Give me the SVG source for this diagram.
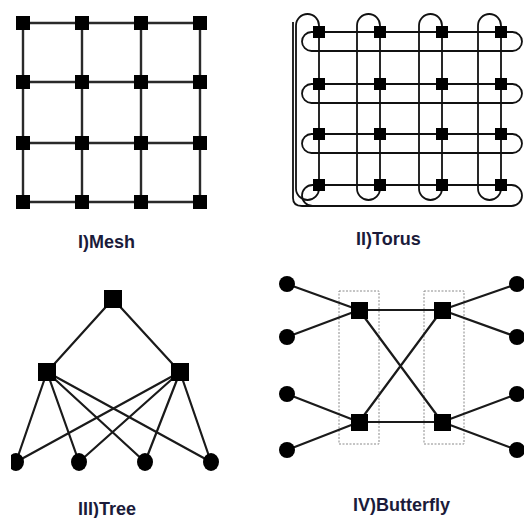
<svg xmlns="http://www.w3.org/2000/svg" width="524" height="518" viewBox="0 0 524 518">
<style>
.bg{fill:#ffffff}
.mline{stroke:#2a2a2a;stroke-width:2.4;fill:none}
.tline{stroke:#111;stroke-width:1.8;fill:none}
.eline{stroke:#1a1a1a;stroke-width:2.2;fill:none}
.box{fill:none;stroke:#8a8a8a;stroke-width:1;stroke-dasharray:2,1.5}
.sq{fill:#000}
.lf{fill:#000}
.lbl{font-family:"Liberation Sans",Arial,sans-serif;font-weight:bold;font-size:18px;fill:#1b1b3a}
</style>
<defs>
<clipPath id="clipL"><rect x="11" y="0" width="513" height="518"/></clipPath>
</defs>
<rect class="bg" x="0" y="0" width="524" height="518"/>

<!-- Connectors -->
<g id="connectors">
 <g id="mesh-links">
  <path class="mline" d="M23 23H200M23 82H200M23 143H200M23 202H200M23 23V202M82 23V202M141 23V202M200 23V202"/>
 </g>
 <g id="torus-links">
  <rect class="tline" x="302" y="32" width="220" height="19" rx="9.5"/>
  <rect class="tline" x="302" y="84" width="220" height="19" rx="9.5"/>
  <rect class="tline" x="302" y="134" width="220" height="19" rx="9.5"/>
  <rect class="tline" x="302" y="185" width="220" height="21" rx="10.5"/>
  <rect class="tline" x="296" y="14" width="23" height="186" rx="11.5"/>
  <rect class="tline" x="357" y="14" width="23" height="186" rx="11.5"/>
  <rect class="tline" x="419" y="14" width="23" height="186" rx="11.5"/>
  <rect class="tline" x="478" y="14" width="23" height="186" rx="11.5"/>
  <path class="tline" d="M293 22V198Q293 206 302 206H512"/>
 </g>
 <g id="tree-links">
  <path class="eline" d="M113 299L47 372M113 299L180 372"/>
  <path class="eline" d="M47 372L16 462M47 372L79 462M47 372L145 462M47 372L211 462"/>
  <path class="eline" d="M180 372L16 462M180 372L79 462M180 372L145 462M180 372L211 462"/>
 </g>
 <g id="butterfly-links">
  <rect class="box" x="339" y="291" width="40" height="153"/>
  <rect class="box" x="424" y="291" width="40" height="153"/>
  <path class="eline" d="M287 284L359 310M287 337L359 310M287 394L359 422M287 450L359 422"/>
  <path class="eline" d="M517 284L442 310M517 337L442 310M517 394L442 422M517 450L442 422"/>
  <path class="eline" d="M359 310H442M359 422H442M359 310L442 422M359 422L442 310"/>
 </g>
</g>

<!-- Mesh nodes -->
<g id="mesh">
 <rect class="sq" x="16" y="16" width="14" height="14"/><rect class="sq" x="75" y="16" width="14" height="14"/><rect class="sq" x="134" y="16" width="14" height="14"/><rect class="sq" x="193" y="16" width="14" height="14"/>
 <rect class="sq" x="16" y="75" width="14" height="14"/><rect class="sq" x="75" y="75" width="14" height="14"/><rect class="sq" x="134" y="75" width="14" height="14"/><rect class="sq" x="193" y="75" width="14" height="14"/>
 <rect class="sq" x="16" y="136" width="14" height="14"/><rect class="sq" x="75" y="136" width="14" height="14"/><rect class="sq" x="134" y="136" width="14" height="14"/><rect class="sq" x="193" y="136" width="14" height="14"/>
 <rect class="sq" x="16" y="195" width="14" height="14"/><rect class="sq" x="75" y="195" width="14" height="14"/><rect class="sq" x="134" y="195" width="14" height="14"/><rect class="sq" x="193" y="195" width="14" height="14"/>
 <text class="lbl" x="78" y="248">I)Mesh</text>
</g>

<!-- Torus nodes -->
<g id="torus">
 <rect class="sq" x="313" y="26" width="12" height="12"/><rect class="sq" x="374" y="26" width="12" height="12"/><rect class="sq" x="436" y="26" width="12" height="12"/><rect class="sq" x="495" y="26" width="12" height="12"/>
 <rect class="sq" x="313" y="78" width="12" height="12"/><rect class="sq" x="374" y="78" width="12" height="12"/><rect class="sq" x="436" y="78" width="12" height="12"/><rect class="sq" x="495" y="78" width="12" height="12"/>
 <rect class="sq" x="313" y="128" width="12" height="12"/><rect class="sq" x="374" y="128" width="12" height="12"/><rect class="sq" x="436" y="128" width="12" height="12"/><rect class="sq" x="495" y="128" width="12" height="12"/>
 <rect class="sq" x="313" y="179" width="12" height="12"/><rect class="sq" x="374" y="179" width="12" height="12"/><rect class="sq" x="436" y="179" width="12" height="12"/><rect class="sq" x="495" y="179" width="12" height="12"/>
 <text class="lbl" x="356" y="245">II)Torus</text>
</g>

<!-- Tree nodes -->
<g id="tree">
 <rect class="sq" x="104" y="290" width="18" height="18"/>
 <rect class="sq" x="38" y="363" width="18" height="18"/>
 <rect class="sq" x="171" y="363" width="18" height="18"/>
 <ellipse class="lf" cx="16" cy="462" rx="8" ry="9" clip-path="url(#clipL)"/>
 <ellipse class="lf" cx="79" cy="462" rx="8" ry="9"/>
 <ellipse class="lf" cx="145" cy="462" rx="8" ry="9"/>
 <ellipse class="lf" cx="211" cy="462" rx="8" ry="9"/>
 <text class="lbl" x="78" y="515">III)Tree</text>
</g>

<!-- Butterfly nodes -->
<g id="butterfly">
 <rect class="sq" x="351" y="302" width="17" height="17"/>
 <rect class="sq" x="351" y="414" width="17" height="17"/>
 <rect class="sq" x="434" y="302" width="17" height="17"/>
 <rect class="sq" x="434" y="414" width="17" height="17"/>
 <circle class="lf" cx="287" cy="284" r="8"/>
 <circle class="lf" cx="287" cy="337" r="8"/>
 <circle class="lf" cx="287" cy="394" r="8"/>
 <circle class="lf" cx="287" cy="450" r="8"/>
 <circle class="lf" cx="517" cy="284" r="8"/>
 <circle class="lf" cx="517" cy="337" r="8"/>
 <circle class="lf" cx="517" cy="394" r="8"/>
 <circle class="lf" cx="517" cy="450" r="8"/>
 <text class="lbl" x="353" y="511">IV)Butterfly</text>
</g>
</svg>
